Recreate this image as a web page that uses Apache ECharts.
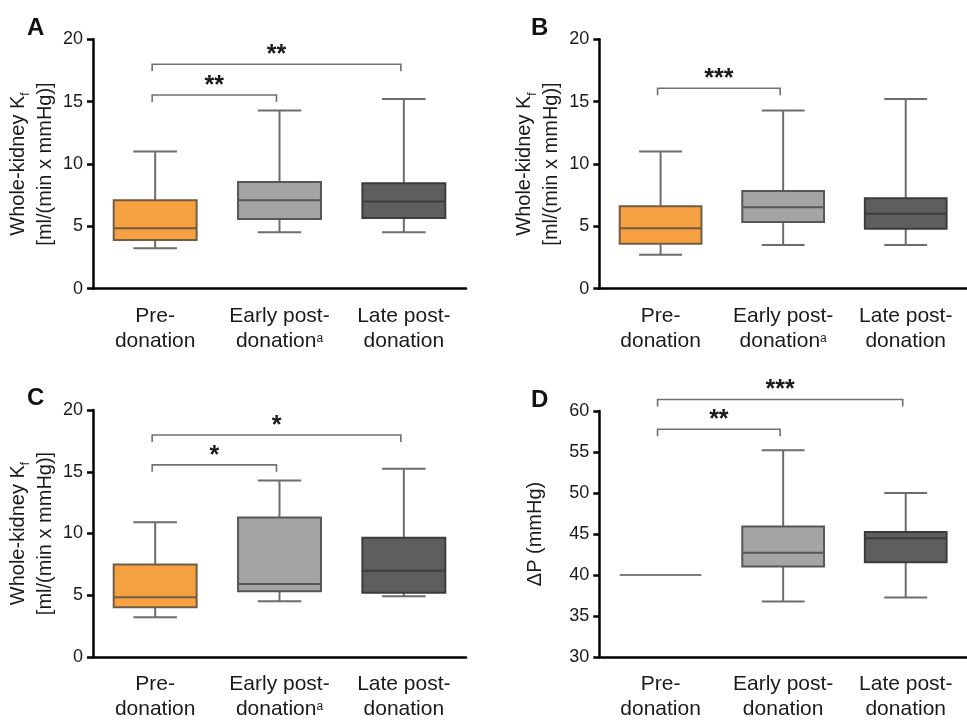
<!DOCTYPE html>
<html>
<head>
<meta charset="utf-8">
<script src="https://cdn.jsdelivr.net/npm/echarts@6/dist/echarts.min.js"></script>
<style>
html,body{margin:0;padding:0;background:#fff;}
#c{width:967px;height:722px;}
</style>
</head>
<body>
<div id="c"></div>
<script>
// ---------- data ----------
const categoriesK = ['Pre-\ndonation', 'Early post-\ndonation{sup|a}', 'Late post-\ndonation'];
const categoriesP = ['Pre-\ndonation', 'Early post-\ndonation', 'Late post-\ndonation'];
const kTicks = [0, 20, 5];   // min, max, interval
const pTicks = [30, 60, 5];

// box data: [min, Q1, median, Q3, max] for Pre, Early, Late
const boxA = [[3.24, 3.9, 4.84, 7.09, 11.0], [4.52, 5.59, 7.09, 8.56, 14.3], [4.52, 5.67, 7.0, 8.45, 15.21]];
const boxB = [[2.73, 3.61, 4.84, 6.61, 11.0], [3.5, 5.35, 6.53, 7.83, 14.3], [3.5, 4.81, 6.02, 7.25, 15.21]];
const boxC = [[3.21, 4.02, 4.84, 7.49, 10.92], [4.52, 5.33, 5.92, 11.3, 14.3], [4.92, 5.2, 6.99, 9.66, 15.24]];
const boxD = [[40, 40, 40, 40, 40], [36.77, 41.04, 42.7, 45.92, 55.2], [37.26, 41.57, 44.47, 45.24, 50.0]];

// significance brackets: [fromCategory, toCategory, yValue]
const sigA = [[0, 1, 15.53], [0, 2, 18.0]];
const sigB = [[0, 1, 16.07]];
const sigC = [[0, 1, 15.56], [0, 2, 17.97]];
const sigD = [[0, 1, 57.77], [0, 2, 61.4]];
const sigLabelsA = ['**', '**'];
const sigLabelsB = ['***'];
const sigLabelsC = ['*', '*'];
const sigLabelsD = ['**', '***'];

const panelLetters = ['A', 'B', 'C', 'D'];
const kName = 'Whole-kidney K{sub|f}\n[ml/(min x mmHg)]';
const pName = 'ΔP (mmHg)';

// ---------- styles ----------
const FONT = "'Liberation Sans', Arial, Helvetica, sans-serif";
const TXT = '#1a1a1a';
const boxFill = ['#F5A142', '#A4A4A4', '#5E5E5E'];
const boxStroke = ['#735C44', '#575757', '#3C3C3C'];
const whiskerColor = '#6C6C6C';
const bracketColor = '#707070';

const grids = [
  {left: 93, top: 39.3, width: 373, height: 249.4},
  {left: 599.3, top: 39.3, width: 374, height: 249.4},
  {left: 93, top: 410, width: 373, height: 249},
  {left: 599.3, top: 411, width: 374, height: 248}
];

function boxRender(params, api) {
  const x = api.value(0);
  const ci = params.dataIndex;
  const band = api.size([1, 0])[0];
  const bw = band * 0.667;
  const cw = band * 0.35;
  const pMin = api.coord([x, api.value(1)]);
  const pQ1 = api.coord([x, api.value(2)]);
  const pMed = api.coord([x, api.value(3)]);
  const pQ3 = api.coord([x, api.value(4)]);
  const pMax = api.coord([x, api.value(5)]);
  const cx = pMed[0];
  const wl = {stroke: whiskerColor, lineWidth: 2};
  const flat = pQ1[1] === pQ3[1];
  const children = [];
  if (!flat) {
    children.push(
      {type: 'line', shape: {x1: cx, y1: pQ3[1], x2: cx, y2: pMax[1]}, style: wl},
      {type: 'line', shape: {x1: cx, y1: pQ1[1], x2: cx, y2: pMin[1]}, style: wl},
      {type: 'line', shape: {x1: cx - cw / 2, y1: pMax[1], x2: cx + cw / 2, y2: pMax[1]}, style: wl},
      {type: 'line', shape: {x1: cx - cw / 2, y1: pMin[1], x2: cx + cw / 2, y2: pMin[1]}, style: wl},
      {type: 'rect', shape: {x: cx - bw / 2, y: pQ3[1], width: bw, height: pQ1[1] - pQ3[1]},
        style: {fill: boxFill[ci], stroke: boxStroke[ci], lineWidth: 2}},
      {type: 'line', shape: {x1: cx - bw / 2, y1: pMed[1], x2: cx + bw / 2, y2: pMed[1]},
        style: {stroke: boxStroke[ci], lineWidth: 2}}
    );
  } else {
    children.push({type: 'line', shape: {x1: cx - bw / 2, y1: pMed[1], x2: cx + bw / 2, y2: pMed[1]},
      style: {stroke: '#555555', lineWidth: 1.5}});
  }
  return {type: 'group', children: children};
}

function makeSigRender(labels) {
  return function (params, api) {
    const a = api.coord([api.value(0), api.value(2)]);
    const b = api.coord([api.value(1), api.value(2)]);
    const x1 = a[0] - 3, x2 = b[0] - 3, y = a[1];
    const drop = 7;
    return {
      type: 'group',
      children: [
        {type: 'polyline', shape: {points: [[x1, y + drop], [x1, y], [x2, y], [x2, y + drop]]},
          style: {stroke: bracketColor, lineWidth: 1.6, fill: null}},
        {type: 'text', x: (x1 + x2) / 2, y: y - 9,
          style: {text: labels[params.dataIndex], font: 'bold 25px ' + FONT, fill: TXT,
            textAlign: 'center', textVerticalAlign: 'middle'}}
      ]
    };
  };
}

const boxes = [boxA, boxB, boxC, boxD];
const sigs = [sigA, sigB, sigC, sigD];
const sigLabels = [sigLabelsA, sigLabelsB, sigLabelsC, sigLabelsD];

const xAxes = [], yAxes = [], series = [], titles = [];
const titlePos = [[22, 11], [526, 11], [22, 381], [526, 383]];

for (let i = 0; i < 4; i++) {
  const isP = i === 3;
  const t = isP ? pTicks : kTicks;
  xAxes.push({
    type: 'category', gridIndex: i, data: isP ? categoriesP : categoriesK,
    axisLine: {lineStyle: {color: '#000', width: 2.5}},
    axisTick: {alignWithLabel: true, length: 7, lineStyle: {color: '#000', width: 2.5}},
    axisLabel: {interval: 0, color: TXT, fontFamily: FONT, fontSize: 21, lineHeight: 25, margin: 15,
      rich: {sup: {fontSize: 12, fontFamily: FONT, color: TXT, verticalAlign: 'top', padding: [4, 0, 0, 0]}}},
    splitLine: {show: false}
  });
  yAxes.push({
    type: 'value', gridIndex: i, min: t[0], max: t[1], interval: t[2],
    name: isP ? pName : kName, nameLocation: 'middle', nameRotate: 90,
    nameGap: isP ? 50 : 34,
    nameTextStyle: {color: TXT, fontFamily: FONT, fontSize: 20, lineHeight: 27,
      rich: {sub: {fontSize: 12, fontFamily: FONT, color: TXT, verticalAlign: 'bottom'}}},
    axisLine: {show: true, lineStyle: {color: '#000', width: 2.5}},
    axisTick: {show: true, length: 6, lineStyle: {color: '#000', width: 2.5}},
    axisLabel: {color: TXT, fontFamily: FONT, fontSize: 18, margin: 10},
    splitLine: {show: false}
  });
  series.push({
    type: 'custom', xAxisIndex: i, yAxisIndex: i, renderItem: boxRender,
    data: boxes[i].map((b, k) => [k].concat(b)),
    encode: {x: 0, y: [1, 2, 3, 4, 5]}, clip: false, silent: true
  });
  series.push({
    type: 'custom', xAxisIndex: i, yAxisIndex: i, renderItem: makeSigRender(sigLabels[i]),
    data: sigs[i], encode: {x: [0, 1], y: 2}, clip: false, silent: true, z: 5
  });
  titles.push({text: panelLetters[i], left: titlePos[i][0], top: titlePos[i][1],
    textStyle: {fontFamily: FONT, fontWeight: 'bold', fontSize: 24, color: '#111'}});
}

const chart = echarts.init(document.getElementById('c'), null, {renderer: 'canvas'});
chart.setOption({
  animation: false,
  backgroundColor: '#fff',
  title: titles,
  grid: grids,
  xAxis: xAxes,
  yAxis: yAxes,
  series: series
});
</script>
</body>
</html>
